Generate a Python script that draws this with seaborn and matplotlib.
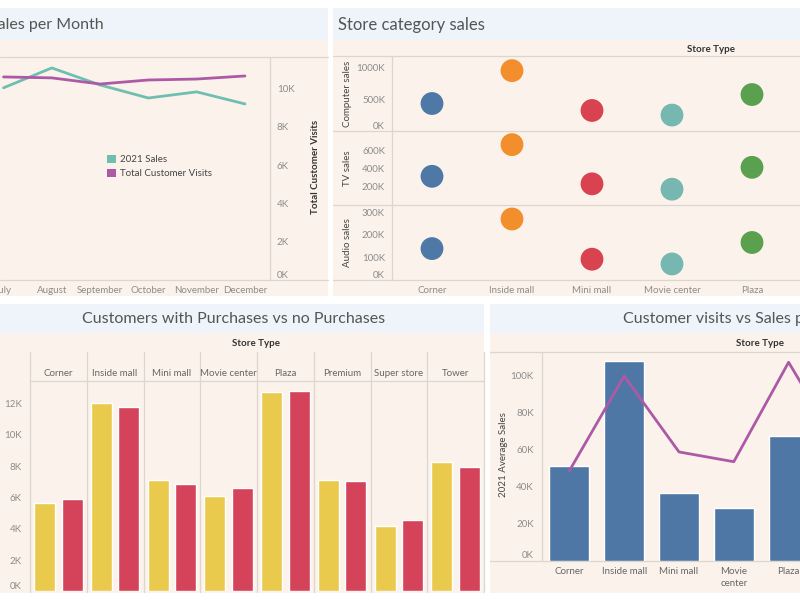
import matplotlib
matplotlib.use("Agg")
import matplotlib.pyplot as plt
import seaborn as sns
import pandas as pd
import numpy as np
from matplotlib.patches import Rectangle, Patch
from matplotlib.lines import Line2D

# ---------------- data ----------------
months = ["July", "August", "September", "October", "November", "December"]
month_num = [7, 8, 9, 10, 11, 12]
sales_2021 = [1003, 1107, 1018, 950, 982, 919]          # thousands (left axis, off-screen)
customer_visits = [10.60, 10.55, 10.23, 10.44, 10.49, 10.65]  # K

cat_stores = ["Corner", "Inside mall", "Mini mall", "Movie center", "Plaza"]
computer_sales = [431, 947, 322, 250, 572]   # K
tv_sales = [316, 665, 233, 174, 415]         # K
audio_sales = [139, 270, 92, 71, 166]        # K

purch_stores = ["Corner", "Inside mall", "Mini mall", "Movie center", "Plaza",
                "Premium", "Super store", "Tower"]
with_purchases = [5.62, 12.03, 7.09, 6.11, 12.73, 7.13, 4.17, 8.24]  # K
no_purchases = [5.90, 11.80, 6.86, 6.60, 12.82, 7.05, 4.54, 7.92]    # K

avg_stores = ["Corner", "Inside mall", "Mini mall", "Movie center", "Plaza"]
avg_sales = [50.9, 107.5, 36.5, 28.5, 67.3]   # K
visit_stores = ["Corner", "Inside mall", "Mini mall", "Movie center", "Plaza", "Premium"]
store_visits = [11.66, 23.96, 14.10, 12.83, 25.75, 13.8]  # K

# ---------------- style ----------------
sns.set_theme(style="white")
plt.rcParams['font.family'] = ['Lato', 'DejaVu Sans']

BEIGE = "#fbf3eb"
BAND = "#eef4f9"
LINEC = "#ddd6cf"
GRAY = "#8c8c8c"
DARK = "#444444"
TITLEC = "#555555"
TEAL = "#6fbfb0"
PURPLE = "#ad5aa6"
STORE_COLORS = ["#4e79a7", "#f28e2b", "#d9434f", "#76b7b2", "#59a14f"]
YELLOW = "#e9ca4c"
RED = "#d4435a"
BLUE = "#4f77a6"

W, H = 800, 600
fig = plt.figure(figsize=(8, 6), dpi=100, facecolor="white")


def rect(x0, y0, x1, y1):
    return [x0 / W, 1 - y1 / H, (x1 - x0) / W, (y1 - y0) / H]


def fx(x):
    return x / W


def fy(y):
    return 1 - y / H


def band(x0, y0, x1, y1, color):
    fig.patches.append(Rectangle((fx(x0), fy(y1)), (x1 - x0) / W, (y1 - y0) / H,
                                 transform=fig.transFigure, facecolor=color,
                                 edgecolor="none", zorder=-5))


def hline(y, x0, x1, color=LINEC):
    fig.add_artist(Line2D([fx(x0), fx(x1)], [fy(y), fy(y)], color=color, lw=0.9, zorder=-1))


def vline(x, y0, y1, color=LINEC):
    fig.add_artist(Line2D([fx(x), fx(x)], [fy(y0), fy(y1)], color=color, lw=0.9, zorder=-1))


def ftext(x, y, s, **kw):
    fig.text(fx(x), fy(y), s, **kw)


def clean(ax):
    ax.set_facecolor("none")
    for s in ax.spines.values():
        s.set_visible(False)
    ax.set_xlabel("")
    ax.set_ylabel("")


def kfmt(vals):
    return [f"{v:g}K" for v in vals]


# ================= Panel 1: Sales per Month =================
band(0, 8, 328, 40, BAND)
band(0, 40, 328, 296, BEIGE)
ftext(104, 25, "Sales per Month", ha="right", va="center", fontsize=11.5, color=TITLEC)

df1 = pd.DataFrame({"month": month_num, "sales": sales_2021, "visits": customer_visits})
ax1 = fig.add_axes(rect(0, 57, 270, 280))
sns.lineplot(data=df1, x="month", y="sales", ax=ax1, color=TEAL, lw=2)
clean(ax1)
ax1.set_xlim(6.928, 6.928 + 270 / 48.3)
ax1.set_ylim(0, 1164)
ax1.set_yticks([])
ax1.set_xticks(month_num)
ax1.set_xticklabels(months)
ax1.tick_params(axis="x", length=0, pad=4, labelsize=7, labelcolor=GRAY)

ax1b = ax1.twinx()
sns.lineplot(data=df1, x="month", y="visits", ax=ax1b, color=PURPLE, lw=2)
clean(ax1b)
ax1b.set_ylim(0, 11.64)
yt = [0, 2, 4, 6, 8, 10]
ax1b.set_yticks(yt)
ax1b.set_yticklabels(kfmt(yt))
ax1b.tick_params(axis="y", length=0, pad=5, labelsize=7, labelcolor=GRAY)
for lab in ax1b.get_yticklabels():
    if lab.get_text() == "0K":
        lab.set_va("bottom")
ftext(316, 167, "Total Customer Visits", rotation=90, ha="center", va="center",
      fontsize=7, color="#333333", fontweight="bold")

hline(57, 0, 328)
hline(280, 0, 328)
vline(270, 57, 280)

leg_handles = [Patch(facecolor=TEAL, edgecolor="none"), Patch(facecolor=PURPLE, edgecolor="none")]
fig.legend(leg_handles, ["2021 Sales", "Total Customer Visits"], loc="upper left",
           bbox_to_anchor=(fx(98), fy(146)), frameon=False, fontsize=7,
           handlelength=0.9, handleheight=0.9, handletextpad=0.5, labelspacing=0.5,
           labelcolor=DARK)

# ================= Panel 2: Store category sales =================
band(333, 8, 800, 40, BAND)
band(333, 40, 800, 296, BEIGE)
ftext(338, 25, "Store category sales", ha="left", va="center", fontsize=12, color=TITLEC)
ftext(711, 49, "Store Type", ha="center", va="center", fontsize=7, color="#333333",
      fontweight="bold")

rows = [
    ("Computer sales", computer_sales, 57, 131, 1161, [0, 500, 1000]),
    ("TV sales", tv_sales, 131, 205, 815, [200, 400, 600]),
    ("Audio sales", audio_sales, 205, 280, 332, [0, 100, 200, 300]),
]
for i, (name, vals, top, bot, ymax, ticks) in enumerate(rows):
    ax = fig.add_axes(rect(392, top, 800, bot))
    dfr = pd.DataFrame({"store": cat_stores, "val": vals})
    sns.scatterplot(data=dfr, x="store", y="val", hue="store", palette=STORE_COLORS,
                    s=270, edgecolor="none", legend=False, ax=ax, zorder=3)
    clean(ax)
    ax.set_xlim(-0.5, (800 - 392) / 80 - 0.5)
    ax.set_ylim(0, ymax)
    ax.set_yticks(ticks)
    ax.set_yticklabels(kfmt(ticks))
    ax.tick_params(axis="y", length=0, pad=5, labelsize=7, labelcolor=GRAY)
    for lab in ax.get_yticklabels():
        if lab.get_text() == "0K":
            lab.set_va("bottom")
    if i == 2:
        ax.tick_params(axis="x", length=0, pad=4, labelsize=7, labelcolor=GRAY)
    else:
        ax.set_xticklabels([])
        ax.tick_params(axis="x", length=0)
    ftext(347, (top + bot) / 2, name, rotation=90, ha="center", va="center",
          fontsize=7, color=DARK)
    hline(bot, 333, 800)

hline(56, 333, 800)
vline(392, 56, 280)

# ================= Panel 3: Customers with Purchases vs no Purchases =================
band(0, 304, 484, 333, BAND)
band(0, 333, 484, 593, BEIGE)
ftext(234, 319, "Customers with Purchases vs no Purchases", ha="center", va="center",
      fontsize=11.5, color=TITLEC)
ftext(256, 344, "Store Type", ha="center", va="center", fontsize=7, color="#333333",
      fontweight="bold")

df3 = pd.DataFrame({
    "store": purch_stores * 2,
    "customers": with_purchases + no_purchases,
    "type": ["With purchases"] * len(purch_stores) + ["No purchases"] * len(purch_stores),
})
ax3 = fig.add_axes(rect(30, 381, 484, 591.3))
sns.barplot(data=df3, x="store", y="customers", hue="type", palette=[YELLOW, RED],
            width=0.97, gap=0.24, saturation=1, legend=False, ax=ax3, errorbar=None)
clean(ax3)
ax3.set_xlim(-0.5, 7.5)
ax3.set_ylim(0, 13.44)
yt3 = [0, 2, 4, 6, 8, 10, 12]
ax3.set_yticks(yt3)
ax3.set_yticklabels(kfmt(yt3))
ax3.tick_params(axis="y", length=0, pad=6, labelsize=7, labelcolor=GRAY)
for lab in ax3.get_yticklabels():
    if lab.get_text() == "0K":
        lab.set_va("bottom")
ax3.xaxis.tick_top()
ax3.tick_params(axis="x", length=0, pad=2, labelsize=7, labelcolor="#666666")

colw = (484 - 30) / 8
for k in range(9):
    vline(30 + k * colw, 352, 592)
hline(381, 31, 484)

# ================= Panel 4: Customer visits vs Sales per Store Type =================
band(490, 304, 800, 333, BAND)
band(490, 333, 800, 593, BEIGE)
ftext(623, 319, "Customer visits vs Sales per Store Type", ha="left", va="center",
      fontsize=11.5, color=TITLEC)
ftext(760, 344, "Store Type", ha="center", va="center", fontsize=7, color="#333333",
      fontweight="bold")

df4 = pd.DataFrame({"store": avg_stores, "sales": avg_sales})
ax4 = fig.add_axes(rect(542, 352, 800, 560.5))
sns.barplot(data=df4, x="store", y="sales", color=BLUE, width=0.73, saturation=1,
            ax=ax4, errorbar=None)
clean(ax4)
ax4.set_xlim(-0.5, (800 - 542) / 54.8 - 0.5)
ax4.set_ylim(0, 112.4)
yt4 = [0, 20, 40, 60, 80, 100]
ax4.set_yticks(yt4)
ax4.set_yticklabels(kfmt(yt4))
ax4.tick_params(axis="y", length=0, pad=6, labelsize=7, labelcolor=GRAY)
for lab in ax4.get_yticklabels():
    if lab.get_text() == "0K":
        lab.set_va("bottom")
ax4.set_xticks(range(len(avg_stores)))
ax4.set_xticklabels([s.replace("Movie center", "Movie\ncenter") for s in avg_stores],
                    linespacing=1.4)
ax4.tick_params(axis="x", length=0, pad=5, labelsize=7, labelcolor="#666666")

ax4b = ax4.twinx()
df4b = pd.DataFrame({"store": visit_stores, "visits": store_visits})
sns.lineplot(data=df4b, x="store", y="visits", sort=False, color=PURPLE, lw=2, ax=ax4b)
clean(ax4b)
ax4b.set_ylim(0, 27.08)
ax4b.set_yticks([])
ax4.set_xlim(-0.5, (800 - 542) / 54.8 - 0.5)

ftext(503, 455, "2021 Average Sales", rotation=90, ha="center", va="center",
      fontsize=7, color=DARK)
hline(352, 490, 800)
hline(561, 490, 800)
vline(542, 352, 561)

fig.savefig("out.png", dpi=100, facecolor="white")
